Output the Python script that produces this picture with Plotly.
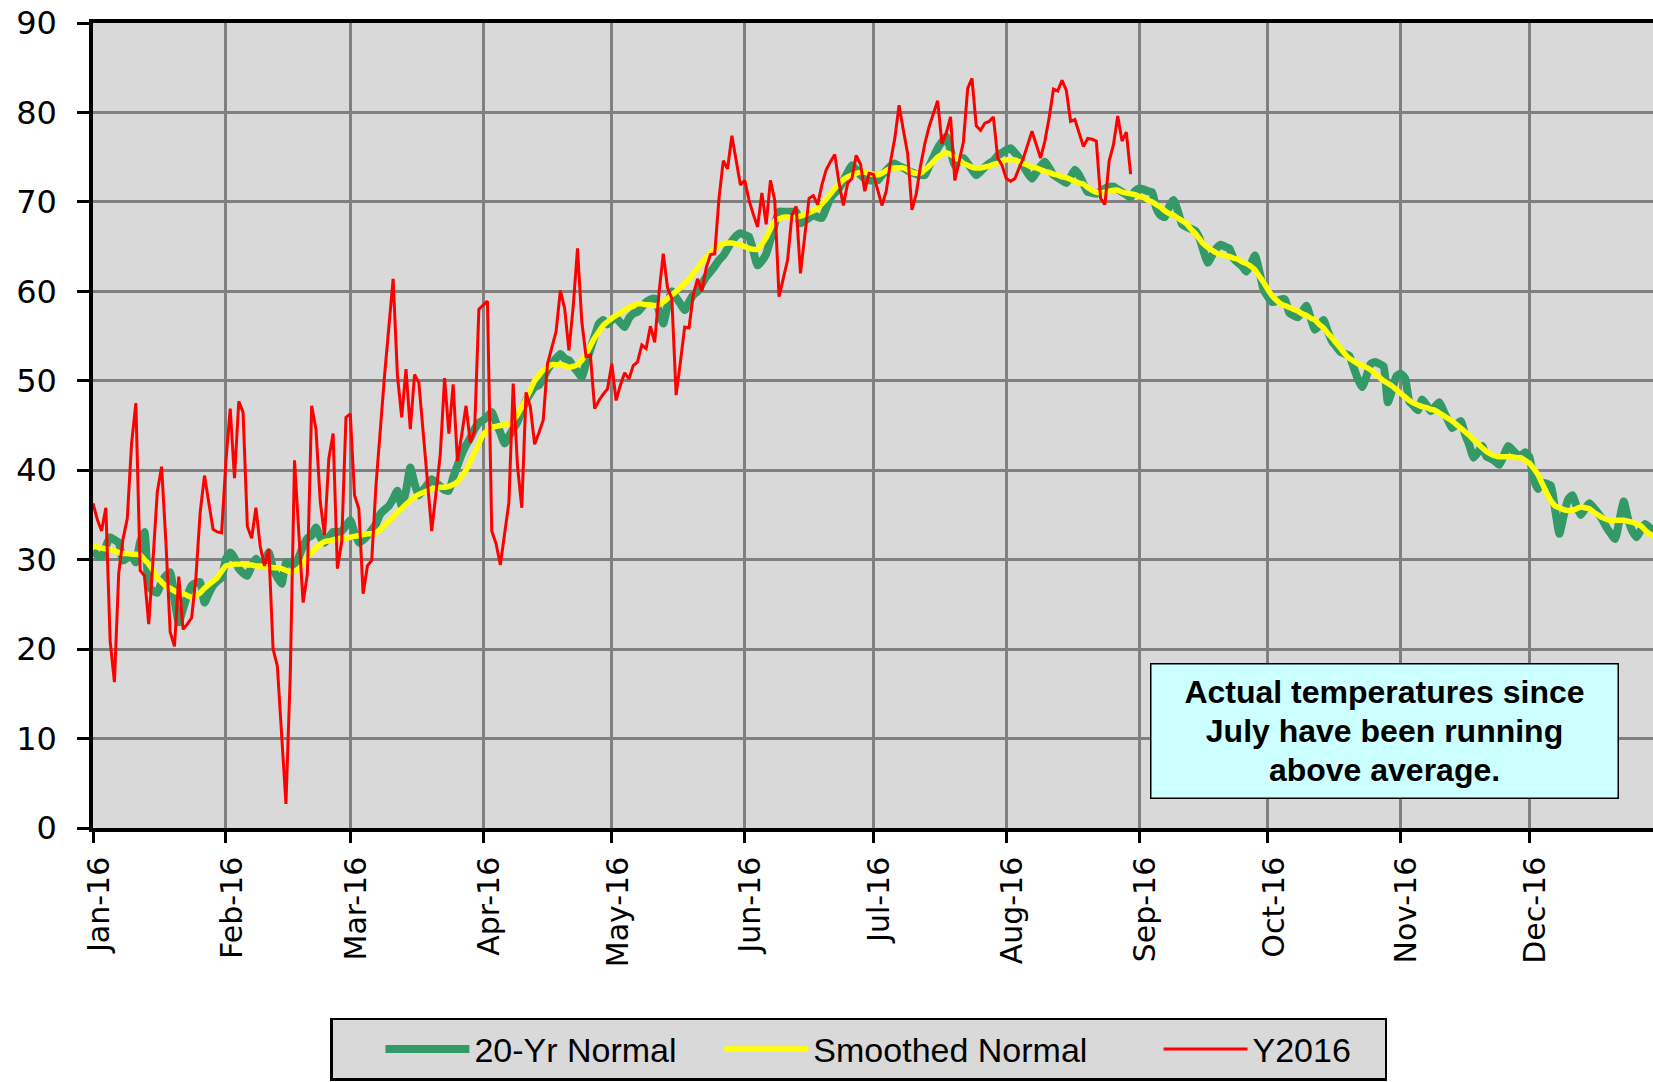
import pandas as pd
import plotly.graph_objects as go

# ---------------- data (daily, 2016) ----------------
start_date = "2016-01-01"

normal_20yr = [
    31.0, 30.5, 30.3, 31.5, 32.5, 32.2, 31.9, 29.9, 30.2, 30.4,
    29.7, 32.0, 33.1, 27.1, 26.5, 26.3, 27.5, 28.2, 28.6, 25.5,
    23.0, 24.5, 26.0, 27.1, 27.4, 27.5, 25.2, 26.2, 27.1, 27.6,
    28.0, 30.1, 30.8, 30.2, 29.0, 28.5, 28.2, 29.3, 30.1, 29.5,
    29.8, 30.8, 29.0, 28.0, 27.3, 29.7, 29.6, 29.3, 30.3, 31.5,
    32.4, 32.7, 33.6, 32.5, 31.9, 32.5, 33.1, 33.1, 33.2, 33.8,
    34.4, 33.0, 31.9, 32.2, 32.7, 33.3, 34.0, 35.1, 35.6, 36.0,
    36.8, 37.7, 36.0, 37.7, 40.3, 38.5, 37.2, 37.8, 38.4, 39.0,
    38.6, 38.2, 37.8, 37.7, 39.2, 40.5, 41.8, 42.8, 43.6, 44.6,
    45.3, 45.6, 46.0, 46.5, 45.3, 44.2, 43.0, 43.8, 44.6, 45.4,
    46.6, 47.8, 48.6, 49.3, 49.5, 50.3, 51.2, 52.0, 52.5, 53.0,
    52.5, 52.3, 51.6, 51.0, 50.4, 52.0, 53.5, 55.0, 56.4, 56.8,
    56.3, 56.8, 57.0, 56.5, 56.0, 57.0, 57.5, 57.7, 58.2, 58.8,
    59.1, 59.2, 57.8, 56.4, 58.4, 60.0, 59.3, 58.6, 57.9, 58.8,
    59.6, 60.0, 60.8, 61.6, 62.2, 62.8, 63.5, 64.0, 64.8, 65.6,
    66.2, 66.5, 66.3, 66.1, 64.5, 62.9, 63.4, 64.2, 65.8, 67.5,
    68.9, 68.9, 68.9, 68.9, 68.9, 67.6, 67.9, 68.2, 68.5, 68.3,
    68.2, 69.3, 70.4, 71.0, 71.5, 72.4, 73.3, 74.1, 73.6, 73.0,
    72.6, 72.4, 72.4, 72.4, 73.0, 73.5, 74.0, 74.3, 74.0, 73.8,
    73.5, 73.3, 73.1, 73.0, 73.0, 74.0, 75.0, 76.0, 76.7, 77.3,
    75.8, 74.1, 74.5, 74.9, 74.3, 73.6, 73.0, 73.4, 73.9, 74.3,
    74.6, 75.2, 75.5, 75.8, 76.0, 75.5, 74.9, 74.0, 73.2, 72.6,
    73.3, 74.0, 74.5, 73.8, 73.0, 72.7, 72.4, 72.1, 72.8, 73.6,
    73.0, 72.0, 71.1, 71.0, 70.9, 71.2, 71.5, 71.7, 71.7, 71.4,
    71.1, 70.8, 70.5, 71.2, 71.5, 71.4, 71.2, 71.1, 69.3, 68.5,
    68.3, 69.5, 70.2, 69.0, 67.5, 67.2, 67.0, 66.8, 66.0, 64.5,
    63.2, 64.0, 64.8, 65.2, 65.0, 64.8, 63.7, 63.2, 62.8, 62.2,
    63.0, 64.0, 62.3, 60.2, 59.4, 58.8, 58.9, 59.1, 59.1, 57.6,
    57.3, 57.1, 57.7, 58.4, 57.0, 55.7, 56.2, 56.8, 55.5, 54.4,
    53.8, 53.2, 53.0, 52.8, 51.5, 50.2, 49.3, 50.5, 51.9, 52.1,
    51.9, 51.6, 47.6, 49.0, 50.5, 50.8, 50.3, 47.7, 47.2, 46.7,
    47.9, 47.3, 46.6, 47.1, 47.6, 46.6, 45.6, 44.7, 45.1, 45.5,
    44.0, 42.8, 41.4, 42.0, 42.7, 41.5, 41.3, 41.0, 40.6, 41.6,
    42.7, 42.3, 41.8, 41.6, 42.0, 41.5, 39.0, 37.9, 38.6, 38.5,
    38.3, 35.6, 32.9, 34.9, 36.7, 37.2, 36.0, 35.0, 35.7, 36.3,
    35.8, 35.2, 34.5, 33.6, 32.9, 32.3, 34.4, 36.5, 34.6, 33.2,
    32.5, 33.3, 34.0, 33.6, 33.2, 33.0,
]

smoothed_normal = [
    31.5, 31.4, 31.3, 31.2, 31.1, 31.0, 30.8, 30.7, 30.7, 30.6,
    30.6, 30.5, 30.0, 29.5, 28.8, 28.0, 27.5, 27.0, 26.8, 26.5,
    26.3, 26.2, 26.0, 25.8, 26.0, 26.3, 26.8, 27.2, 27.6, 28.0,
    28.7, 29.3, 29.4, 29.5, 29.5, 29.5, 29.4, 29.4, 29.3, 29.3,
    29.2, 29.2, 29.1, 29.1, 29.0, 28.8, 28.6, 28.7, 29.0, 29.6,
    30.3, 30.8, 31.3, 31.7, 32.0, 32.1, 32.2, 32.3, 32.4, 32.4,
    32.5, 32.6, 32.7, 32.8, 32.9, 32.9, 33.0, 33.4, 33.8, 34.3,
    34.8, 35.3, 35.7, 36.2, 36.6, 37.0, 37.3, 37.5, 37.7, 37.9,
    38.0, 38.1, 38.1, 38.2, 38.4, 38.7, 39.3, 40.0, 41.0, 42.0,
    43.0, 44.0, 44.4, 44.8, 44.9, 45.0, 45.1, 45.2, 45.6, 46.2,
    47.1, 48.0, 49.0, 50.0, 50.6, 51.2, 51.5, 51.8, 51.8, 51.8,
    51.7, 51.5, 51.6, 51.8, 52.3, 53.0, 53.9, 54.8, 55.5, 56.2,
    56.6, 57.0, 57.3, 57.6, 57.9, 58.2, 58.4, 58.6, 58.6, 58.5,
    58.5, 58.4, 58.5, 58.8, 59.2, 59.6, 60.0, 60.4, 60.9, 61.4,
    62.0, 62.6, 63.2, 63.8, 64.3, 64.8, 65.1, 65.3, 65.4, 65.4,
    65.3, 65.2, 65.0, 64.8, 64.7, 64.7, 65.3, 66.0, 67.0, 67.9,
    68.1, 68.3, 68.3, 68.2, 68.3, 68.4, 68.6, 68.8, 69.0, 69.3,
    69.8, 70.3, 70.9, 71.5, 72.0, 72.5, 72.8, 73.0, 73.2, 73.3,
    73.3, 73.2, 73.1, 73.0, 73.2, 73.5, 73.7, 73.8, 73.8, 73.8,
    73.6, 73.3, 73.2, 73.2, 73.6, 74.0, 74.5, 75.0, 75.3, 75.5,
    75.3, 75.0, 74.7, 74.3, 74.1, 73.9, 73.8, 73.8, 73.9, 74.0,
    74.2, 74.3, 74.5, 74.7, 74.7, 74.7, 74.5, 74.3, 74.1, 73.9,
    73.8, 73.6, 73.4, 73.3, 73.1, 73.0, 72.8, 72.7, 72.5, 72.3,
    72.1, 72.0, 71.6, 71.3, 71.1, 71.0, 71.1, 71.2, 71.3, 71.3,
    71.1, 71.0, 70.9, 70.8, 70.6, 70.5, 70.2, 70.0, 69.7, 69.4,
    69.0, 68.7, 68.5, 68.2, 67.9, 67.6, 67.0, 66.5, 65.9, 65.3,
    64.9, 64.6, 64.3, 64.1, 64.0, 63.9, 63.7, 63.6, 63.3, 63.1,
    62.8, 62.4, 61.7, 61.0, 60.2, 59.5, 59.0, 58.6, 58.4, 58.2,
    58.0, 57.8, 57.5, 57.3, 57.0, 56.8, 56.3, 55.9, 55.3, 54.8,
    54.2, 53.6, 53.0, 52.5, 52.2, 51.9, 51.7, 51.5, 51.2, 50.8,
    50.4, 50.0, 49.7, 49.4, 49.0, 48.6, 48.2, 47.8, 47.5, 47.3,
    47.1, 47.0, 46.8, 46.7, 46.4, 46.1, 45.8, 45.5, 45.1, 44.7,
    44.3, 43.9, 43.4, 43.0, 42.5, 42.1, 41.8, 41.6, 41.5, 41.5,
    41.5, 41.5, 41.4, 41.4, 41.1, 40.8, 40.2, 39.5, 38.5, 37.5,
    36.6, 36.0, 35.8, 35.6, 35.5, 35.5, 35.7, 35.9, 35.8, 35.7,
    35.3, 35.0, 34.7, 34.5, 34.4, 34.4, 34.4, 34.4, 34.3, 34.2,
    34.0, 33.8, 33.3, 32.9, 32.6, 32.3,
]

y2016 = [
    36.3, 34.5, 33.2, 35.8, 20.9, 16.3, 28.5, 32.3, 34.6, 43.0,
    47.5, 28.8, 28.2, 22.8, 30.0, 37.6, 40.4, 32.0, 21.9, 20.3,
    28.1, 22.2, 22.8, 23.5, 28.0, 35.3, 39.4, 36.5, 33.4, 33.1,
    33.0, 41.0, 46.9, 39.1, 47.7, 46.5, 33.7, 32.4, 35.8, 31.5,
    29.3, 31.2, 20.0, 18.1, 10.0, 2.7, 17.0, 41.1, 33.0, 25.2,
    28.4, 47.2, 44.6, 36.5, 32.7, 41.3, 44.1, 29.0, 32.0, 45.9,
    46.3, 37.2, 35.7, 26.2, 29.3, 29.9, 38.3, 45.0, 50.6, 56.0,
    61.4, 50.6, 45.9, 51.3, 44.6, 50.7, 49.8, 44.3, 38.8, 33.2,
    37.5, 41.8, 50.3, 44.1, 49.6, 41.0, 44.0, 47.2, 43.1, 44.4,
    58.0, 58.5, 58.9, 33.2, 31.8, 29.4, 33.0, 36.4, 49.7, 40.5,
    35.8, 48.7, 47.1, 42.9, 44.2, 45.6, 51.9, 53.7, 55.5, 60.1,
    58.1, 53.4, 58.3, 64.8, 56.6, 52.7, 52.9, 46.9, 47.8, 48.5,
    49.1, 51.9, 47.8, 49.5, 50.9, 50.2, 51.7, 52.1, 54.0, 53.6,
    56.1, 54.3, 59.8, 64.2, 60.4, 59.2, 48.4, 52.1, 56.0, 55.9,
    59.6, 61.4, 60.0, 62.6, 64.1, 64.2, 70.4, 74.6, 73.7, 77.4,
    74.7, 71.9, 72.4, 70.2, 68.6, 67.2, 71.0, 67.5, 72.4, 70.2,
    59.4, 61.5, 63.5, 68.5, 69.5, 62.0, 66.3, 70.4, 70.7, 69.7,
    71.9, 73.6, 74.5, 75.3, 72.1, 69.6, 72.1, 72.6, 75.2, 74.2,
    71.2, 73.2, 73.1, 71.4, 69.6, 71.2, 74.5, 77.1, 80.8, 78.0,
    75.4, 69.1, 70.9, 74.0, 76.5, 78.4, 79.8, 81.3, 76.5, 77.7,
    79.5, 72.4, 74.5, 76.7, 82.7, 83.8, 78.5, 78.0, 78.8, 79.0,
    79.5, 74.9, 74.1, 72.6, 72.3, 72.6, 73.8, 74.9, 76.4, 77.9,
    76.4, 74.9, 76.8, 79.4, 82.6, 82.4, 83.6, 82.5, 79.0, 79.2,
    77.7, 76.2, 77.1, 77.0, 76.8, 70.4, 69.7, 74.6, 76.4, 79.6,
    76.8, 77.8, 73.1,
]

month_ticks = pd.date_range("2016-01-01", periods=12, freq="MS")
month_labels = ["Jan-16", "Feb-16", "Mar-16", "Apr-16", "May-16", "Jun-16",
                "Jul-16", "Aug-16", "Sep-16", "Oct-16", "Nov-16", "Dec-16"]
y_ticks = [0, 10, 20, 30, 40, 50, 60, 70, 80, 90]

series_names = ["20-Yr Normal", "Smoothed Normal", "Y2016"]
note_lines = ["Actual temperatures since", "July have been running", "above average."]

dates_all = pd.date_range(start_date, periods=len(normal_20yr), freq="D")
dates_2016 = dates_all[:len(y2016)]

NBSP = "\u00a0"
legend_pad = [NBSP * 4, NBSP * 7, NBSP * 3]

# ---------------- figure ----------------
fig = go.Figure()
fig.add_trace(go.Scatter(
    x=dates_all, y=normal_20yr, mode="lines", name=series_names[0] + legend_pad[0],
    line=dict(color="#339966", width=8, shape="spline", smoothing=0.5),
))
fig.add_trace(go.Scatter(
    x=dates_all, y=smoothed_normal, mode="lines", name=series_names[1] + legend_pad[1],
    line=dict(color="#FFFF00", width=5.5, shape="spline", smoothing=0.6),
))
fig.add_trace(go.Scatter(
    x=dates_2016, y=y2016, mode="lines", name=series_names[2] + legend_pad[2],
    line=dict(color="#FF0000", width=3),
))

note_text = "<br>".join(f"<span style='font-size:32px'>{t}</span>" for t in note_lines)

fig.update_layout(
    width=1653, height=1082,
    margin=dict(l=93, r=0, t=23, b=254),
    paper_bgcolor="white",
    plot_bgcolor="#D9D9D9",
    showlegend=True,
    legend=dict(
        orientation="h",
        x=0.152, xanchor="left",
        y=-0.236, yanchor="top",
        bgcolor="#D9D9D9",
        bordercolor="black", borderwidth=2.5,
        font=dict(family="Liberation Sans, Arial, sans-serif", size=34, color="black"),
        itemwidth=84,
        title=dict(text=NBSP * 4, side="left",
                   font=dict(family="Liberation Sans, Arial, sans-serif", size=34)),
    ),
    xaxis=dict(
        type="date",
        range=["2016-01-01", "2016-12-29 20:00"],
        tickvals=list(month_ticks), ticktext=month_labels,
        tickangle=-90,
        tickfont=dict(family="DejaVu Sans, Verdana, sans-serif", size=30, color="black"),
        ticks="outside", ticklen=11, tickwidth=3, tickcolor="black",
        ticklabelshift=6, ticklabelstandoff=2,
        showline=True, linecolor="black", linewidth=3.5, mirror=True,
        showgrid=True, gridcolor="#808080", gridwidth=2.5,
        zeroline=False,
    ),
    yaxis=dict(
        range=[0, 90],
        tickvals=y_ticks,
        tickfont=dict(family="DejaVu Sans, Verdana, sans-serif", size=32, color="black"),
        ticks="outside", ticklen=12, tickwidth=3, tickcolor="black",
        ticklabelstandoff=14,
        showline=True, linecolor="black", linewidth=3.5,
        showgrid=True, gridcolor="#808080", gridwidth=2.5,
        zeroline=False,
    ),
    annotations=[dict(
        text=note_text,
        xref="paper", yref="paper",
        x=0.8276, y=0.1199, xanchor="center", yanchor="middle",
        showarrow=False,
        align="center",
        font=dict(family="Liberation Sans, Arial, sans-serif", size=30,
                  color="black", weight="bold"),
        bgcolor="#CCFFFF", bordercolor="black", borderwidth=1.5, borderpad=4,
        width=458, height=125,
    )],
)

fig.write_html("out.html", config={"displayModeBar": False},
               post_script="document.body.style.margin='0';")
